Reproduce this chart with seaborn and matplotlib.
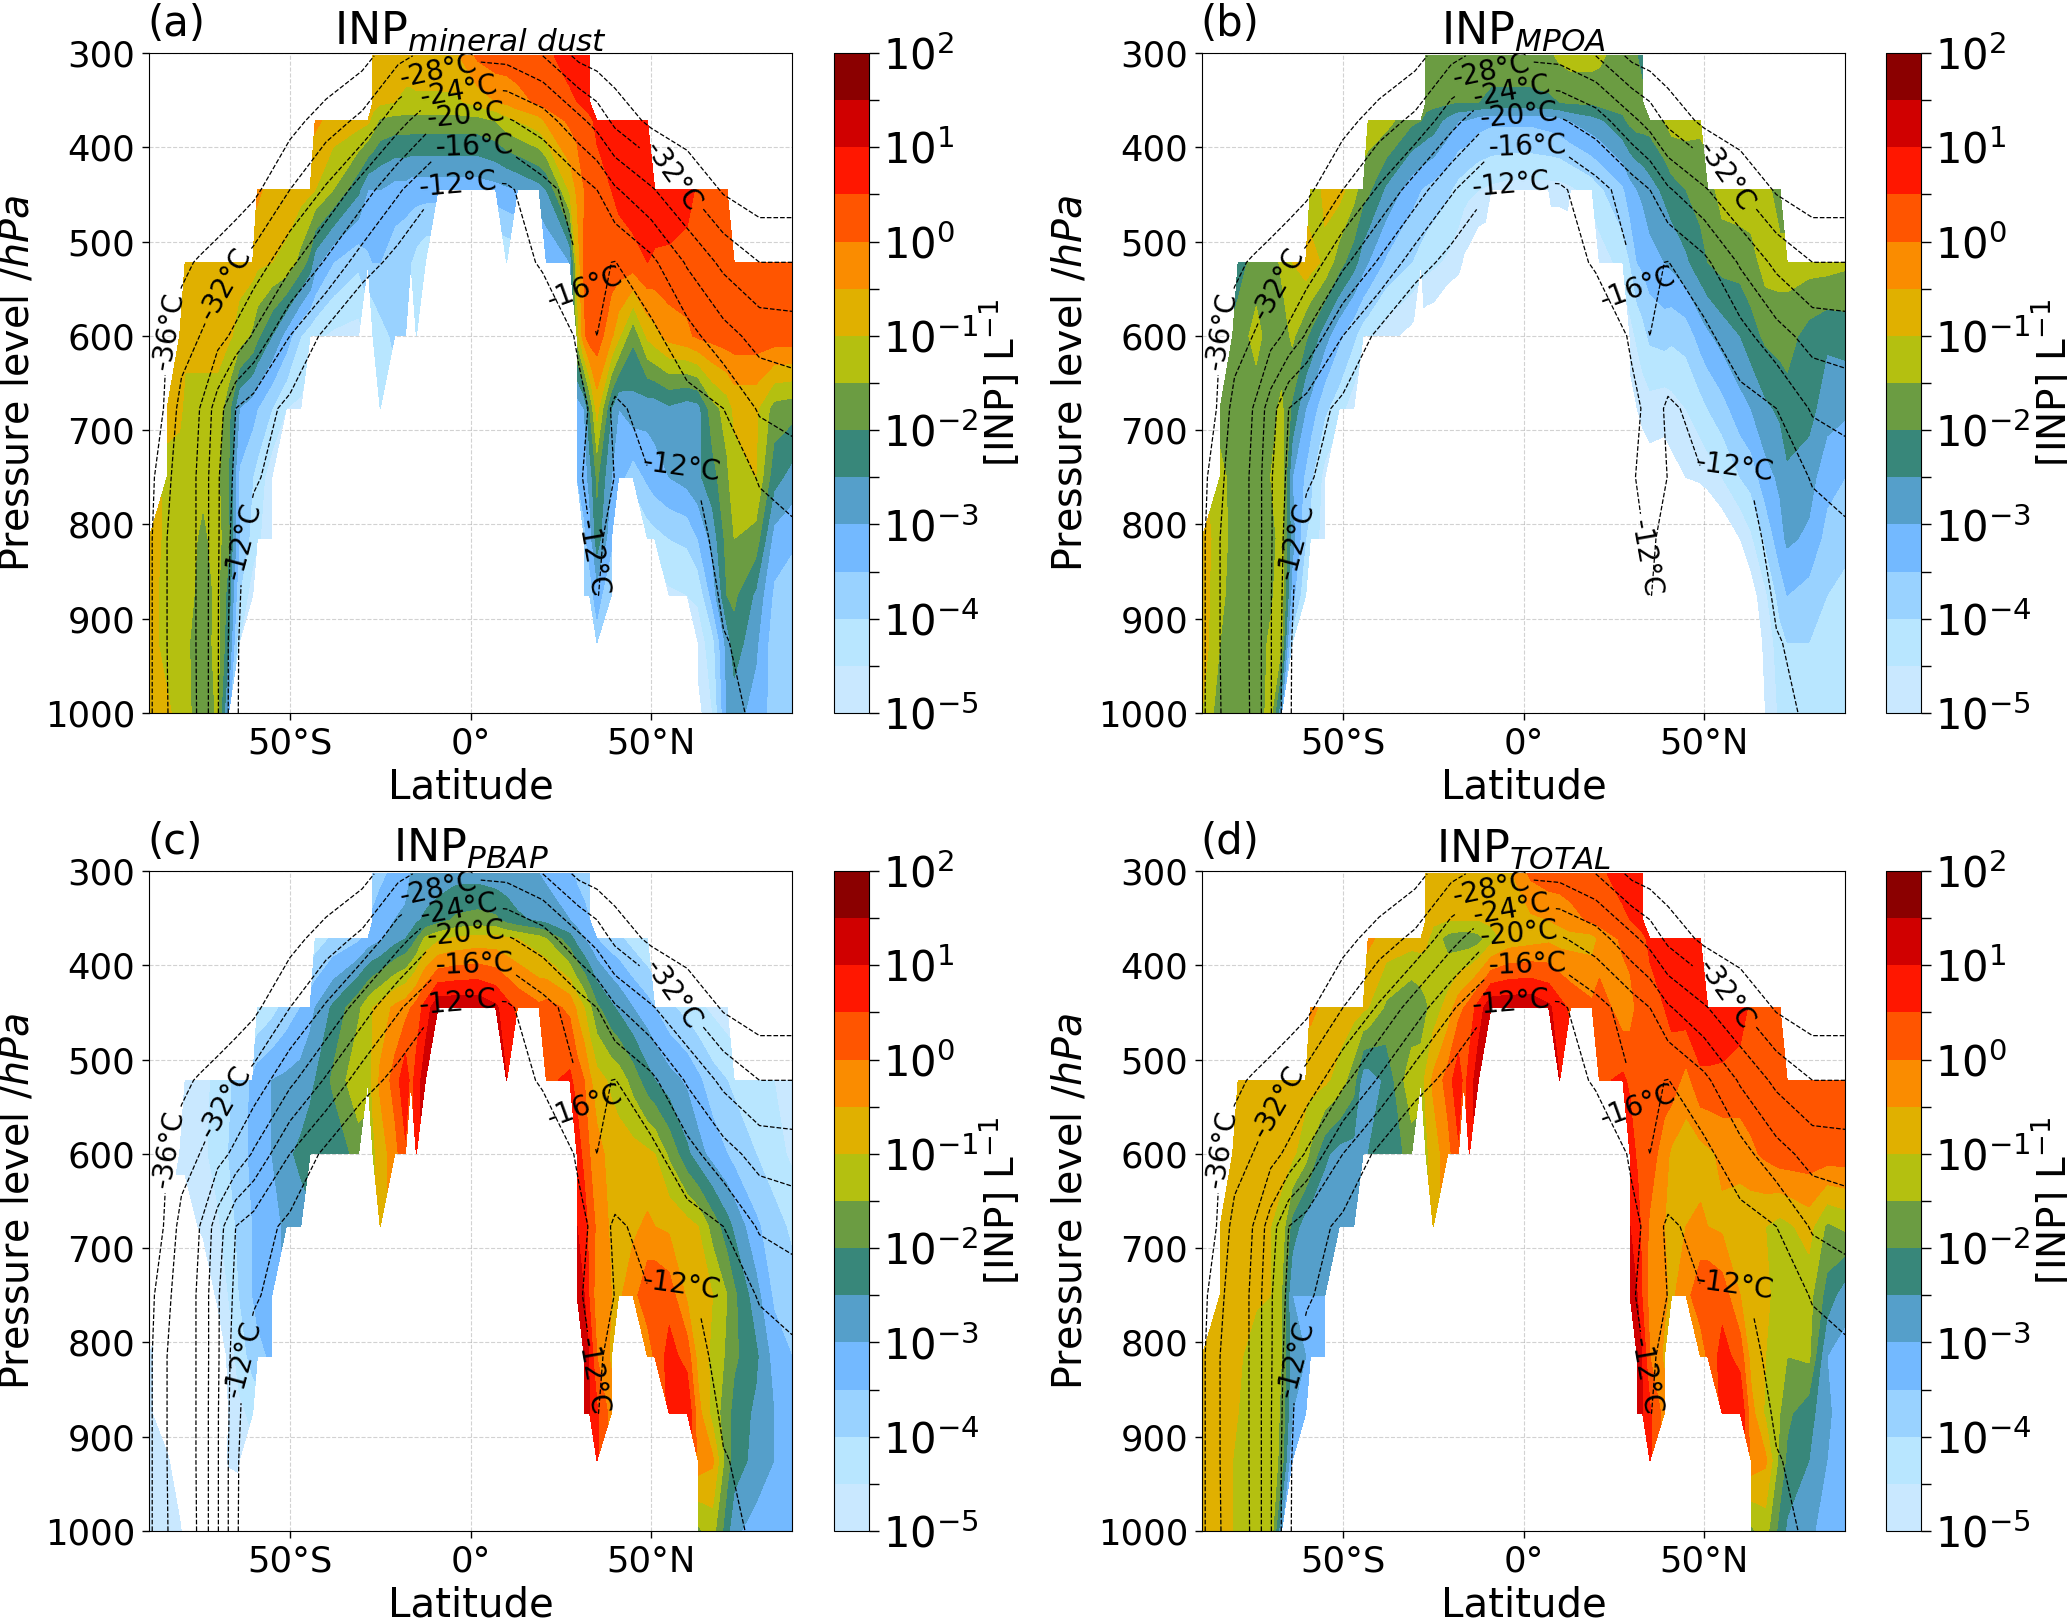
import numpy as np
import matplotlib
matplotlib.use("Agg")
import matplotlib.pyplot as plt
import seaborn as sns

n = np.nan
N10 = [n] * 10

# model levels and latitudes, log10 of INP
PRESS = [303, 352, 372, 445, 522, 600, 677, 750, 815, 875, 925, 1000]
LATS = [-89, -84, -80.5, -79, -74, -70, -67, -64, -60.3, -59,
        -55, -51, -47, -44.4, -43, -38, -31, -28.4, -27, -25,
        -21, -18, -16.5, -15, -12.5, -9, -4, 2, 7, 10,
        13, 19, 21, 27.5, 29.5, 31.5, 33, 35, 39, 41,
        45, 49, 51, 55, 60, 63, 67, 71, 73, 79,
        84, 89]

DUST = [
    [*N10, n,n,n,n,n,n,n,n,-.8,-.8, -.8,-.8,-.8,-.7,-.7,-.7,-.6,.1,.3,.3, .3,.4,.4,.7,.8,.8,.8,n,n,n, *N10, n,n],
    [*N10, n,n,n,n,n,n,n,n,-.8,-.9, -1,-1.1,-1.1,-1.1,-1.1,-1.1,-1.1,-.8,-.5,-.4, -.2,.1,.2,.4,.5,.6,.7,n,n,n, *N10, n,n],
    [*N10, n,n,n,n,-.4,-.7,-.8,-.9,-1.2,-1.6, -1.7,-1.7,-1.7,-1.7,-1.7,-1.7,-1.7,-1.7,-1.5,-1.2, -1,-.7,-.4,.1,.2,.3,.4,.6,.9,.9, .9,.8,n,n,n,n,n,n,n,n, n,n],
    [n,n,n,n,n,n,n,n,n,-.4, -.7,-.8,-.8,-.9,-1,-1.5,-2.4,-3,-3,-3, -3.2,-3.2,-3.3,-3.3,-3.3,-3.3,-3.3,-3.3,-3.2,-3.1, -3,-2.7,-2.5,-.9,-.4,0,.2,.3,.5,.6, .8,.9,.9,.8,.7,.4,.3,.3,n,n, n,n],
    [n,n,n,-.8,-.8,-.8,-.8,-.8,-.8,-.9, -1,-1.1,-1.7,-2.2,-2.8,-3.5,-3.9,-3.6,-3.5,-3.5, -3.8,-4,-4,-4.2,-4.4,n,n,n,n,-4.5, n,n,-3.5,-3,-.9,.1,.2,.2,.3,.3, .3,.5,.4,.4,.3,.3,.3,.3,.3,.3, .3,.3],
    [n,n,-.9,-.9,-.8,-.8,-.9,-1.2,-1.6,-1.9, -2.5,-3.2,-4,-4.3,-4.4,-4.6,-4.7,n,-4.5,-4.2, -3.9,-3.9,n,-4,n,n,n,n,n,n, n,n,n,n,-1.3,-.1,.3,.3,-.4,-.9, -1.9,-.9,-.7,-.3,-.1,.1,.2,.3,.3,.3, .3,.3],
    [n,-.9,-.9,-1.1,-1.2,-1.2,-1.8,-3,-3.3,-3.5, -4,-4.5,-4.6,n,n,n,n,n,n,-4.5, *N10, n,n,n,n,-3.3,-3,-2,-.8,-2.5,-3, -2.7,-2.8,-2.8,-2.6,-2.8,-2.7,-1.7,-1.3,-.9,-.9, -1.7,-1.8],
    [n,-1.1,-1.2,-1.2,-1.4,-1.4,-2,-3.6,-4,-4.2, -4.8,n,n,n,n,n,n,n,n,n, *N10, n,n,n,n,-3.5,-3.3,-2.8,-1.9,-3,-3.3, -3.8,-3.4,-3.2,-3,-2.8,-2.6,-2.2,-1.6,-1.2,-1, -2.3,-2.7],
    [-.8,-1.1,-1.2,-1.3,-1.6,-1.3,-1.9,-3.5,-4.2,-4.4, -4.9,n,n,n,n,n,n,n,n,n, *N10, n,n,n,n,n,-3.6,-3.3,-2.2,-3.4,n, n,-4.3,-4.2,-4,-3.9,-3.5,-2.8,-1.8,-1.5,-1.7, -3.2,-3.4],
    [-.8,-1.2,-1.3,-1.3,-1.7,-1.4,-2.2,-4,-4.8,n, *N10, *N10, n,n,n,n,n,-3.8,-3.7,-3.3,-3.9,n, n,n,n,-4.6,-4.5,-4.4,-3.3,-2,-1.9,-2.6, -3.6,-3.8],
    [-.8,-1.2,-1.4,-1.4,-1.8,-1.3,-2.4,-4.5,n,n, *N10, *N10, n,n,n,n,n,n,n,-3.7,n,n, n,n,n,n,n,-4.8,-4.2,-2.8,-2.2,-2.9, -3.8,-4],
    [-.8,-.9,-1.2,-1.3,-1.9,-1.4,-3.2,n,n,n, *N10, *N10, *N10, n,n,n,n,n,-5.2,-4.5,-3,-2.8,-3.2, -3.7,-3.7],
]

MPOA = [
    [*N10, n,n,n,n,n,n,n,n,-1.9,-1.8, -1.8,-1.8,-1.8,-1.8,-1.8,-1.8,-1.8,-1.8,-1.6,-1.4, -1.3,-1.3,-1.4,-1.8,-1.9,-2,-2.3,n,n,n, *N10, n,n],
    [*N10, n,n,n,n,n,n,n,n,-1.9,-1.9, -1.9,-2,-2,-2,-2,-2.1,-2.1,-2.1,-2.1,-2, -1.9,-1.9,-1.8,-1.8,-1.8,-1.8,-1.8,n,n,n, *N10, n,n],
    [*N10, n,n,n,n,-1.2,-1.3,-1.9,-2,-2.1,-2.2, -2.7,-3,-3,-3.1,-3.3,-3.4,-3.4,-3.4,-3.3,-3.2, -3,-2.7,-2.6,-2.1,-1.9,-1.8,-1.8,-1.8,-1.5,-1.3, -1.3,-1.4,n,n,n,n,n,n,n,n, n,n],
    [n,n,n,n,n,n,n,n,n,-1.3, -.9,-.8,-1.3,-1.8,-1.9,-2.6,-3.3,-3.5,-3.6,-3.7, -3.9,-4.2,-4.3,-4.4,-4.5,-4.6,-4.7,-4.7,-4.7,-4.7, -4.6,-4.3,-4.1,-3.6,-3.2,-3,-2.9,-2.7,-2.4,-2.2, -2,-1.8,-1.7,-1.3,-1.2,-1.2,-1.3,-1.8,n,n, n,n],
    [n,n,n,-2.2,-1.8,-1.8,-1.4,-1,-.7,-.8, -1.1,-1.8,-2.3,-2.8,-3,-3.6,-4,-4.2,-4.3,-4.4, -4.6,-4.8,-5.1,-5.2,-5.5,n,n,n,n,-6, n,n,-4.8,-4.3,-4,-3.5,-3.4,-3.2,-3,-2.9, -2.6,-2.2,-2,-1.8,-1.8,-1.7,-1.3,-1.3,-1.3,-1.3, -1.3,-1.4],
    [n,n,-1.9,-1.8,-1.3,-1.8,-1.8,-1.4,-1.9,-2.1, -2.8,-3.4,-3.9,-4.3,-4.4,-4.8,-5.2,n,-5.5,-5.5, -6,-6,n,-6,n,n,n,n,n,n, n,n,n,n,-4.7,-4.4,-4.2,-3.9,-3.8,-3.9, -3.8,-3.3,-3.1,-2.8,-2.5,-2.2,-1.9,-1.8,-1.8,-2.2, -2.4,-2.3],
    [n,-1.8,-1.8,-1.8,-1.8,-1.7,-1.4,-2.1,-3,-3.2, -3.9,-4.3,-4.8,n,n,n,n,n,n,-6, *N10, n,n,n,n,-5.3,-5,-4.8,-4.7,-4.8,-4.7, -4.5,-4.2,-4,-3.7,-3.2,-3,-2.6,-2.4,-2.2,-2.3, -2.8,-2.9],
    [n,-1.3,-1.7,-1.8,-1.8,-1.5,-1.2,-3,-3.6,-3.9, -4.7,n,n,n,n,n,n,n,n,n, *N10, n,n,n,n,-6,-5.7,-5.5,-5.3,-5.3,-5.2, -5,-4.9,-4.8,-4.5,-4,-3.8,-3.2,-2.9,-2.6,-2.8, -3.3,-3.5],
    [-.8,-1.2,-1.7,-1.8,-1.9,-1.8,-1.2,-2.8,-4,-4.1, -4.8,n,n,n,n,n,n,n,n,n, *N10, n,n,n,n,n,-6,-6,-6,-6,n, n,-6,-5.8,-5.5,-5,-4.6,-3.9,-3.2,-2.9,-3.1, -3.7,-3.8],
    [-.8,-1.3,-1.8,-1.8,-1.8,-1.6,-1.2,-3.3,-4.5,n, *N10, *N10, n,n,n,n,n,-6,-6,-6,-6,n, n,n,n,-6,-6,-5.3,-4.6,-3.8,-3.5,-3.7, -4,-4.2],
    [-.7,-1.5,-1.8,-1.8,-1.8,-1.4,-1.4,-4.3,n,n, *N10, *N10, n,n,n,n,n,n,n,-6,n,n, n,n,n,n,n,-5.4,-4.9,-4.2,-4,-4, -4.2,-4.3],
    [-1,-1.8,-1.8,-1.8,-1.8,-1.3,-3,n,n,n, *N10, *N10, *N10, n,n,n,n,n,-6,-5,-4.4,-4.2,-4.1, -4.3,-4.4],
]

PBAP = [
    [*N10, n,n,n,n,n,n,n,n,-3.8,-3.6, -3.4,-3.2,-3,-3,-2.9,-2.8,-2.7,-2.7,-2.8,-2.8, -2.9,-3,-3.1,-3.4,-3.6,-3.8,-4,n,n,n, *N10, n,n],
    [*N10, n,n,n,n,n,n,n,n,-3.4,-3.3, -3,-2.9,-2.8,-2.6,-2.4,-2.2,-1.9,-1.8,-1.9,-2.2, -2.4,-2.6,-2.7,-3,-3.2,-3.3,-3.5,n,n,n, *N10, n,n],
    [*N10, n,n,n,n,-4.3,-3.9,-3.6,-3.3,-3.2,-3.1, -2.7,-2.5,-2.3,-2,-1.4,-1.1,-.9,-.8,-.8,-.9, -1,-1.3,-1.5,-2.3,-2.7,-3,-3.2,-3.5,-3.8,-3.9, -4.2,-4.5,n,n,n,n,n,n,n,n, n,n],
    [n,n,n,n,n,n,n,n,n,-4.5, -4.2,-3.8,-3.5,-3.2,-3,-2.4,-1.6,-1.2,-1,-.8, -.4,-.2,0,.2,.7,1.4,1.4,1.4,1.1,.7, .4,.1,.2,-.1,-.6,-1,-1.4,-1.9,-2.4,-2.6, -3,-3.3,-3.5,-3.9,-4.2,-4.4,-4.6,-4.8,n,n, n,n],
    [n,n,n,-4.8,-4.6,-4.4,-4.1,-3.8,-3.4,-3.2, -3,-2.9,-2.8,-2.6,-2.5,-1.9,-1.1,-1.2,-.9,-.4, .2,.9,.3,.7,1.3,n,n,n,n,1, n,n,.4,.6,.3,0,-.4,-.8,-1.1,-1.2, -1.7,-2.3,-2.5,-2.8,-3.1,-3.4,-3.8,-4,-4.1,-4.3, -4.5,-4.7],
    [n,n,-4.8,-4.8,-4.6,-4.3,-4,-3.7,-3.4,-3.3, -3,-2.6,-2.4,-2.3,-2.3,-2.4,-1.8,n,-1.1,-.8, -.2,.4,n,.7,n,n,n,n,n,n, n,n,n,n,.8,.3,0,-.3,-.7,-.8, -.8,-.9,-1,-1.6,-2.4,-2.8,-3.2,-3.5,-3.7,-4, -4.3,-4.6],
    [n,-5.5,-5.5,-5.5,-4.8,-4.6,-4.2,-3.9,-3.5,-3.4, -3.2,-2.9,-2.7,n,n,n,n,n,n,-.8, *N10, n,n,n,n,1,.8,.3,-.1,-.6,-.8, -.6,-.4,-.5,-.6,-.8,-1,-1.7,-2.3,-2.6,-3.4, -3.8,-4.1],
    [n,-6,-6,-6,-6,-4.8,-4.5,-4,-3.5,-3.3, -3.2,n,n,n,n,n,n,n,n,n, *N10, n,n,n,n,1.3,1,.4,-.3,-.5,-.6, -.2,.4,.5,.3,-.6,-.8,-1,-1.5,-1.9,-2.8, -3.6,-3.8],
    [-4.8,-6,-6,-6,-6,-6,-4.8,-4.3,-3.8,-3.7, -3.4,n,n,n,n,n,n,n,n,n, *N10, n,n,n,n,n,1.4,.9,0,-.6,n, n,-.4,.1,.7,.3,-.7,-1.1,-1.6,-1.9,-2.4, -3.2,-3.5],
    [-4.8,-6,-6,-6,-6,-6,-5,-4.6,-4.4,n, *N10, *N10, n,n,n,n,n,1.3,1,.6,-.2,n, n,n,n,.6,1,-.3,-1.2,-1.8,-2.2,-2.6, -3,-3.3],
    [-4.8,-4.8,-6,-6,-6,-6,-4.9,-4.8,n,n, *N10, *N10, n,n,n,n,n,n,n,.6,n,n, n,n,n,n,n,-.2,-.4,-1.8,-2.2,-2.7, -3,-3.3],
    [-4.8,-4.7,-4.8,-5.5,-5.5,-6,-6,n,n,n, *N10, *N10, *N10, n,n,n,n,n,-1.6,-1.3,-2.3,-2.9,-3.2, -3.3,-3.5],
]

TOTAL = [
    [*N10, n,n,n,n,n,n,n,n,-.8,-.8, -.8,-.8,-.8,-.7,-.7,-.7,-.6,.1,.3,.3, .3,.4,.4,.7,.8,.8,.8,n,n,n, *N10, n,n],
    [*N10, n,n,n,n,n,n,n,n,-.8,-.9, -1,-1,-1,-1,-1,-.9,-.8,-.6,-.5,-.4, -.2,.1,.2,.4,.5,.6,.7,n,n,n, *N10, n,n],
    [*N10, n,n,n,n,-.4,-.7,-.8,-.8,-.9,-1.2, -1.7,-1.8,-1.8,-1.8,-1.7,-1.2,-.8,-.7,-.6,-.7, -.7,-.7,-.4,.1,.2,.3,.4,.6,.9,.9, .9,.8,n,n,n,n,n,n,n,n, n,n],
    [n,n,n,n,n,n,n,n,n,-.4, -.6,-.7,-.8,-.9,-1,-1.6,-2,-1.8,-1.6,-1.3, -.8,-.2,0,.2,.7,1.4,1.4,1.4,1.1,.7, .4,.1,.3,-.3,-.2,.1,.2,.3,.5,.6, .8,.9,.9,.8,.7,.4,.3,.3,n,n, n,n],
    [n,n,n,-.8,-.8,-.8,-.8,-.8,-.8,-.8, -.9,-1.2,-1.8,-2.8,-2.8,-2.4,-1.1,-1.2,-.9,-.4, .2,.9,.3,.7,1.3,n,n,n,n,1, n,n,.4,.6,.4,.3,.2,.2,.3,.3, -.2,.4,.4,.4,.3,.3,.3,.3,.3,.3, .3,.3],
    [n,n,-.9,-.9,-.8,-.8,-.8,-.9,-1.3,-1.6, -2.4,-2.7,-2.7,-2.6,-2.5,-2.4,-1.8,n,-1.1,-.8, -.2,.4,n,.7,n,n,n,n,n,n, n,n,n,n,.8,.4,.3,.3,-.3,-.6, -.8,-.7,-.6,-.4,-.3,-.1,.1,.3,.3,.3, .3,.3],
    [n,-.9,-.9,-.9,-.9,-1,-1.2,-2.2,-2.8,-2.9, -2.9,-2.8,-2.7,n,n,n,n,n,n,-.8, *N10, n,n,n,n,1,.8,.3,-.1,-.5,-.7, -.5,-.4,-.5,-.6,-.8,-.9,-1,-1.2,-1.1,-.8, -1.6,-1.4],
    [n,-.9,-.9,-.9,-.9,-1,-1.5,-3,-3,-3, -3,n,n,n,n,n,n,n,n,n, *N10, n,n,n,n,1.3,1,.4,-.2,-.4,-.6, -.2,.4,.5,.3,-.5,-.7,-.9,-1.2,-1.2,-1.3, -2.2,-2.8],
    [-.8,-.9,-.9,-.9,-1.3,-1.1,-1.5,-2.8,-3,-3.1, -3.2,n,n,n,n,n,n,n,n,n, *N10, n,n,n,n,n,1.4,.9,0,-.6,n, n,-.4,.1,.7,.3,-.7,-1,-1.3,-1.5,-1.4, -3,-3.2],
    [-.8,-.9,-.9,-1,-1.3,-1.1,-1.6,-3,-3.4,n, *N10, *N10, n,n,n,n,n,1.3,1,.6,-.2,n, n,n,n,.6,1,-.3,-1.1,-1.5,-1.9,-2.3, -2.9,-3.3],
    [-.7,-.9,-1,-1,-1.3,-1.1,-1.7,-3.5,n,n, *N10, *N10, n,n,n,n,n,n,n,.6,n,n, n,n,n,n,n,-.2,-.4,-1.7,-2.1,-2.5, -3,-3.3],
    [-.8,-.9,-1,-1.1,-1.4,-1.1,-3,n,n,n, *N10, *N10, *N10, n,n,n,n,n,-1.6,-1.3,-2.2,-2.6,-2.9, -3.2,-3.4],
]

# temperature in deg C on its own coarser grid
T_PRESS = [303, 372, 445, 522, 600, 677, 750, 815, 875, 925, 1000]
T_LATS = [-89, -85, -80, -75, -70, -65, -60, -50, -40, -30, -20, -10, 0, 10, 20, 30, 35, 40, 50, 60, 70, 80, 89]
TEMP = [
    [-52,-50,-48,-46,-45,-44,-43,-42,-40,-37.5,-33,-30.5,-28.8,-29.3,-32,-37,-38,-39,-41,-42,-43,-44,-45],
    [-46,-45,-44,-43,-42,-41,-40,-37.5,-34,-31,-25.5,-20.5,-19,-19.5,-22,-27,-29.5,-33,-37,-39,-41,-42,-43],
    [-44,-43,-42,-41,-40,-38.5,-37,-32,-27.5,-22,-16.5,-12.3,-11,-11.3,-14.5,-18,-20,-23.5,-27.5,-32,-36.5,-38.5,-38.5],
    [-41,-39,-37,-35.5,-34,-32.5,-30.5,-25,-19.5,-14,-10.5,-8,-6,-8,-13,-16.1,-16.4,-15.9,-19,-24.5,-29,-32,-32],
    [-38.5,-36.5,-34,-32,-29.5,-27,-23.5,-16,-11,-7,-5,-4,-3,-3,-6,-13,-16,-14.5,-15,-18.5,-22.5,-25.5,-26],
    [-38,-36,-30.5,-28,-22,-16,-14,-11,-8,-5,-3,-2,-1,-1,-3,-10.5,-13.5,-11.5,-13,-14.5,-16,-20.5,-21.5],
    [-37.5,-33.5,-30,-27.5,-20.5,-15,-13,-8,-5,-3,-1,0,1,1,-1,-11,-16,-11.8,-12,-11.5,-13.5,-16.3,-17.8],
    [-37,-32.5,-30,-27.5,-20.5,-14,-9,-5,-2,0,2,3,4,3,2,-9,-13.5,-9,-9,-10.5,-13,-14.5,-15],
    [-37,-32.5,-30,-27.5,-20.3,-13.5,-8,-3,0,2,4,5,6,5,4,-6,-12.4,-8,-7,-9,-12.5,-13.5,-13.5],
    [-37,-32.5,-30,-27.5,-20.3,-13,-7,-2,1,3,5,6,7,6,5,0,-7,-4,-5,-8,-11.8,-13,-12.8],
    [-37,-32.5,-30.5,-27.5,-20.3,-13,-6,-1,2,4,6,7,8,7,6,4,0,-1,-2,-5,-10.5,-13,-12.8],
]
T_LEVELS = [-36, -32, -28, -24, -20, -16, -12]
T_LABELS = [(-9, 319), (-3, 342), (-1, 368), (1, 400), (-4, 432), (-68, 545), (55, 436),
            (-84.5, 594), (-60, 818), (31, 550), (59, 747), (35, 835)]
T_LABEL_ANGLES = [12, 10, 5, 2, 5, 60, -55, 80, 75, 20, -8, -80]

LOG_LEVELS = np.arange(-5, 2.01, 0.5)
COLORS = ["#c9e8ff", "#b8e6ff", "#99d2ff", "#73b9ff", "#559fca", "#38877a", "#6b9c42",
          "#b4c010", "#e0b000", "#fa8c00", "#ff5500", "#ff1700", "#d00000", "#8b0000"]
PANELS = [("(a)", r"INP$_{mineral\ dust}$", DUST), ("(b)", r"INP$_{MPOA}$", MPOA),
          ("(c)", r"INP$_{PBAP}$", PBAP), ("(d)", r"INP$_{TOTAL}$", TOTAL)]

sns.set_style("ticks")
plt.rcParams["font.family"] = "DejaVu Sans"
plt.rcParams["axes.edgecolor"] = "black"
plt.rcParams["xtick.color"] = "black"
plt.rcParams["ytick.color"] = "black"
plt.rcParams["text.color"] = "black"
plt.rcParams["axes.labelcolor"] = "black"

W, H = 2067, 1619
fig = plt.figure(figsize=(W / 100, H / 100), dpi=100)
palette = sns.color_palette(COLORS)
lefts = [149, 1202, 149, 1202]
tops = [53, 53, 871, 871]
cb_lefts = [834, 1886, 834, 1886]

for i, (tag, title, values) in enumerate(PANELS):
    ax = fig.add_axes([lefts[i] / W, 1 - (tops[i] + 660) / H, 643 / W, 660 / H])
    cax = fig.add_axes([cb_lefts[i] / W, 1 - (tops[i] + 660) / H, 35 / W, 660 / H])

    z = np.ma.masked_invalid(np.array(values, dtype=float))
    cf = ax.contourf(LATS, PRESS, z, levels=LOG_LEVELS, colors=palette)
    cs = ax.contour(T_LATS, T_PRESS, np.array(TEMP), levels=T_LEVELS, colors="k",
                    linestyles="--", linewidths=0.9)

    ax.set_xlim(-89, 89)
    ax.set_ylim(1000, 300)

    labels = ax.clabel(cs, fmt=lambda v: f"{v:.0f}°C", manual=T_LABELS, fontsize=20, inline=True)
    # angles set by hand, the y axis is flipped and clabel gets them wrong
    for t, angle in zip(labels, T_LABEL_ANGLES):
        t.set_transform_rotates_text(False)
        t.set_rotation(angle)

    ax.set_xticks([-50, 0, 50])
    ax.set_xticklabels(["50°S", "0°", "50°N"])
    ax.set_yticks(np.arange(300, 1001, 100))
    ax.tick_params(labelsize=25.5, length=5, width=1, pad=5)
    ax.grid(True, color="gray", linestyle="--", linewidth=0.8, alpha=0.35)
    ax.set_xlabel("Latitude", fontsize=29, labelpad=5)
    ax.set_ylabel(r"Pressure level /$hPa$", fontsize=28.5, labelpad=5)
    ax.set_title(title, fontsize=32, pad=1)
    ax.text(-0.003, 1.012, tag, transform=ax.transAxes, fontsize=30, va="bottom", ha="left")

    cb = fig.colorbar(cf, cax=cax)
    cb.set_ticks(LOG_LEVELS)
    cb.set_ticklabels([rf"$10^{{{int(v)}}}$" if float(v).is_integer() else "" for v in LOG_LEVELS])
    cb.ax.tick_params(labelsize=30, length=7, width=1, pad=3)
    cb.set_label(r"[INP] L$^{-1}$", fontsize=28, labelpad=-1)

fig.savefig("out.png", dpi=100, facecolor="white")
